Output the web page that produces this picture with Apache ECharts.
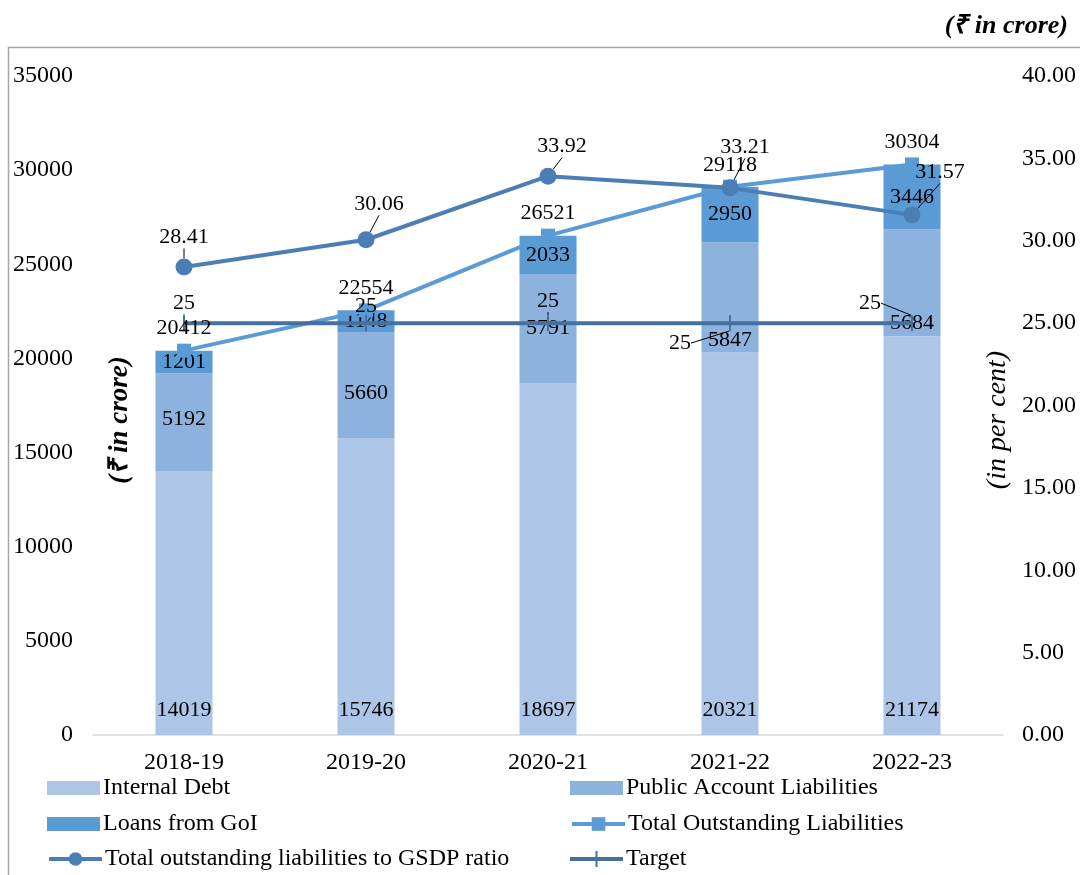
<!DOCTYPE html>
<html>
<head>
<meta charset="utf-8">
<script src="https://cdn.jsdelivr.net/npm/echarts@6/dist/echarts.min.js"></script>
<style>
  html, body { margin: 0; padding: 0; background: #fff; }
  #chart { width: 1080px; height: 875px; }
</style>
</head>
<body>
<div id="chart"></div>
<script>
  // --- data ---
  const years = ['2018-19', '2019-20', '2020-21', '2021-22', '2022-23'];
  const internalDebt = [14019, 15746, 18697, 20321, 21174];
  const publicAccount = [5192, 5660, 5791, 5847, 5684];
  const loansGoI = [1201, 1148, 2033, 2950, 3446];
  const totalLiabilities = [20412, 22554, 26521, 29118, 30304];
  const gsdpRatio = [28.41, 30.06, 33.92, 33.21, 31.57];
  const target = [25, 25, 25, 25, 25];
  const leftTicks = [0, 5000, 10000, 15000, 20000, 25000, 30000, 35000];
  const rightTicks = [0, 5, 10, 15, 20, 25, 30, 35, 40];

  // label nudges (px), one per year
  const gsdpShift = [[0, 0], [13, -6], [14, 0], [15, -11], [28, -13]];
  const targetShift = [[0, 0], [0, 3], [0, -2], [-50, 40], [-42, 0]];
  const publicShift = [-3, 8, 0, 43, 40];

  const FONT = 'Liberation Serif';
  const lbl = { fontFamily: FONT, fontSize: 22, color: '#000' };
  const axisFont = { fontFamily: FONT, fontSize: 24, color: '#000' };

  const chart = echarts.init(document.getElementById('chart'));

  // thin upright tick used as the Target marker, and a line-with-tick for its legend key
  const tick = 'path://M0,0 L2,0 L2,16 L0,16 Z';
  const plusKey = 'path://M0,6 L25.5,6 L25.5,0 L27.5,0 L27.5,6 L53,6 L53,10 L27.5,10 L27.5,16 L25.5,16 L25.5,10 L0,10 Z';

  const legendBase = {
    orient: 'horizontal',
    itemWidth: 53,
    itemGap: 4,
    textStyle: { fontFamily: FONT, fontSize: 24, color: '#000', padding: [0, 0, 0, -2] },
    padding: 0
  };
  // name, left, top, isBar
  const legendSpots = [
    ['Internal Debt', 47, 776, true],
    ['Public Account Liabilities', 570, 776, true],
    ['Loans from GoI', 47, 812, true],
    ['Total Outstanding Liabilities', 570, 812, false],
    ['Total outstanding liabilities to GSDP ratio', 47, 847, false],
    ['Target', 570, 847, false]
  ];

  chart.setOption({
    animation: false,
    grid: { left: 93, right: 77, top: 76, bottom: 140 },
    legend: legendSpots.map(([name, left, top, isBar]) => {
      const item = { name };
      if (isBar) item.icon = 'rect';
      if (name === 'Target') item.icon = plusKey;
      return Object.assign({}, legendBase, {
        data: [item], left, top,
        itemHeight: isBar ? 14 : 17,
        lineStyle: { width: 4 }
      });
    }),
    xAxis: {
      type: 'category',
      data: years,
      axisLine: { lineStyle: { color: '#d9d9d9', width: 1.5 } },
      axisTick: { show: false },
      axisLabel: Object.assign({ margin: 16 }, axisFont)
    },
    yAxis: [
      {
        type: 'value', min: leftTicks[0], max: leftTicks[leftTicks.length - 1], interval: 5000,
        axisLine: { show: false }, axisTick: { show: false }, splitLine: { show: false },
        axisLabel: Object.assign({ margin: 20, formatter: v => String(v) }, axisFont)
      },
      {
        type: 'value', min: rightTicks[0], max: rightTicks[rightTicks.length - 1], interval: 5,
        position: 'right',
        axisLine: { show: false }, axisTick: { show: false }, splitLine: { show: false },
        axisLabel: Object.assign({ margin: 19, formatter: v => v.toFixed(2) }, axisFont)
      }
    ],
    graphic: [
      { type: 'rect', shape: { x: 8.5, y: 47.5, width: 1200, height: 1000 },
        style: { fill: 'none', stroke: '#a6a6a6', lineWidth: 1.5 }, silent: true },
      { type: 'text', right: 12, top: 13,
        style: { text: '(₹ in crore)', font: 'italic bold 26px "Liberation Serif"', fill: '#000' } },
      { type: 'text', x: 120, y: 420, rotation: Math.PI / 2,
        style: { text: '(₹ in crore)', font: 'italic bold 27px "Liberation Serif"', fill: '#000',
                 align: 'center', verticalAlign: 'middle' } },
      { type: 'text', x: 998, y: 420, rotation: Math.PI / 2,
        style: { text: '(in per cent)', font: 'italic 28px "Liberation Serif"', fill: '#000',
                 align: 'center', verticalAlign: 'middle' } }
    ],
    series: [
      {
        name: 'Internal Debt', type: 'bar', stack: 'debt', barWidth: 57,
        itemStyle: { color: '#adc6e7' },
        label: Object.assign({ show: true, position: 'insideBottom', distance: 14 }, lbl),
        data: internalDebt
      },
      {
        name: 'Public Account Liabilities', type: 'bar', stack: 'debt',
        itemStyle: { color: '#8db2dd' },
        label: Object.assign({ show: true, position: 'inside' }, lbl),
        data: publicAccount.map((v, i) => ({ value: v, label: { offset: [0, publicShift[i]] } }))
      },
      {
        name: 'Loans from GoI', type: 'bar', stack: 'debt',
        itemStyle: { color: '#5b9bd5' },
        label: Object.assign({ show: true, position: 'inside' }, lbl),
        data: loansGoI
      },
      {
        name: 'Total Outstanding Liabilities', type: 'line',
        symbol: 'rect', symbolSize: 14,
        lineStyle: { color: '#5b9bd5', width: 4 },
        itemStyle: { color: '#5b9bd5' },
        label: Object.assign({ show: true, position: 'top', distance: 4 }, lbl),
        data: totalLiabilities
      },
      {
        name: 'Total outstanding liabilities to GSDP ratio', type: 'line', yAxisIndex: 1,
        symbol: 'circle', symbolSize: 17,
        lineStyle: { color: '#4a7eb4', width: 4 },
        itemStyle: { color: '#4a7eb4' },
        label: Object.assign({ show: true, position: 'top', distance: 10 }, lbl),
        labelLine: { show: true, lineStyle: { color: '#000', width: 1 } },
        labelLayout: p => ({ dx: gsdpShift[p.dataIndex][0], dy: gsdpShift[p.dataIndex][1] }),
        data: gsdpRatio
      },
      {
        name: 'Target', type: 'line', yAxisIndex: 1,
        symbol: tick, symbolSize: [2, 16], symbolKeepAspect: false,
        lineStyle: { color: '#44719e', width: 4 },
        itemStyle: { color: '#44719e' },
        label: Object.assign({ show: true, position: 'top', distance: 1 }, lbl),
        labelLine: { show: true, lineStyle: { color: '#000', width: 1 } },
        labelLayout: p => ({ dx: targetShift[p.dataIndex][0], dy: targetShift[p.dataIndex][1] }),
        data: target
      }
    ]
  });
</script>
</body>
</html>
